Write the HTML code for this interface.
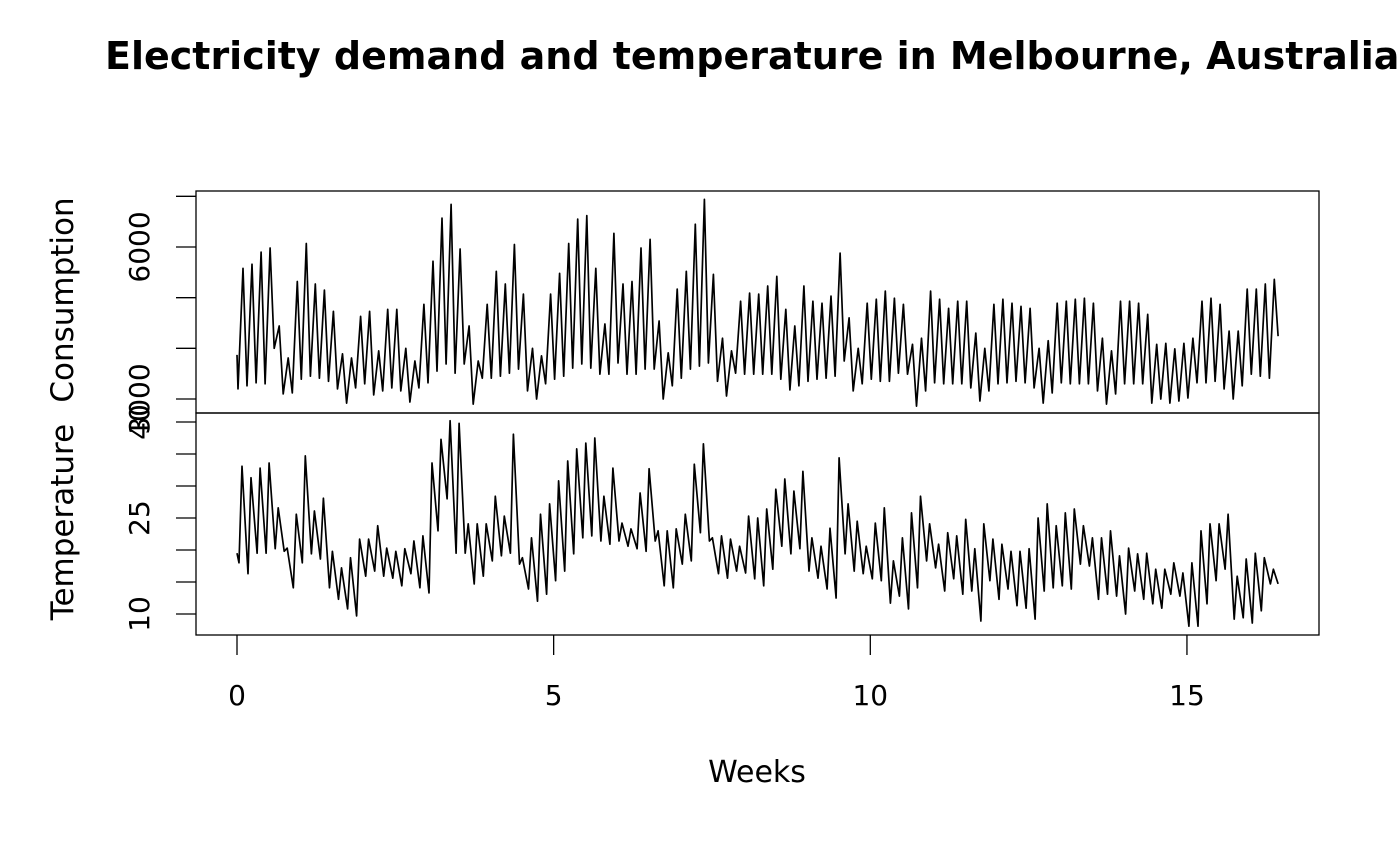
<!DOCTYPE html>
<html><head><meta charset="utf-8"><style>
html,body{margin:0;padding:0;background:#fff;overflow:hidden}
svg{display:block;font-family:"DejaVu Sans","Liberation Sans",sans-serif}
</style></head><body>
<svg id="chart" width="1400" height="866" viewBox="0 0 1400 866">
<text x="105" y="69" font-size="38" font-weight="bold">Electricity demand and temperature in Melbourne, Australia</text>
<rect x="196" y="191" width="1123" height="222" fill="none" stroke="#000" stroke-width="1.3"/>
<rect x="196" y="413" width="1123" height="222" fill="none" stroke="#000" stroke-width="1.3"/>
<text x="757" y="782" font-size="30" text-anchor="middle">Weeks</text>
<text transform="translate(73,300) rotate(-90)" font-size="31" text-anchor="middle">Consumption</text>
<text transform="translate(73,522) rotate(-90)" font-size="31" text-anchor="middle">Temperature</text>
<g id="axes"></g>
<g id="series"></g>
</svg>
<script>
const xTicks=[0,5,10,15];
const demandTicks=[3000,4000,5000,6000,7000];
const demandLabels=["3000","","","6000",""];
const tempTicks=[10,15,20,25,30,35,40];
const tempLabels=["10","","","25","","","40"];
const demandLow=[3200,3260,3320,3300,4000,3100,3120,3390,3450,3410,3350,3200,2920,3220,3300,3080,3160,3220,3160,2940,3220,3320,3550,3690,3510,3690,2900,3410,3410,3450,3510,3590,3160,3000,3300,3390,3450,3610,3690,3610,3490,3490,3710,3490,3490,3590,3590,3000,3260,3410,3590,3650,3710,3350,3060,3510,3490,3490,3490,3490,3390,3180,3260,3350,3390,3410,3450,3750,3160,3300,3390,3350,3350,3510,3490,2860,3160,3320,3300,3300,3300,3220,2960,3160,3300,3320,3350,3320,3220,2920,3120,3320,3300,3300,3300,3160,2900,3100,3300,3300,3300,2920,3000,2920,2960,3020,3320,3320,3350,3200,3000,3260,3490,3450,3410];
const demandHigh=[5580,5660,5900,5980,4440,3810,5320,6070,5270,5150,4730,3890,3810,4630,4730,3950,4770,4770,4000,3750,4870,5720,6570,6840,5960,4440,3750,4870,5520,5270,6050,5070,4000,3850,5070,5480,6070,6550,6620,5580,4480,6270,5270,5320,5980,6150,4540,3910,5170,5520,6450,6940,5460,4200,3950,4930,5090,5070,5230,5420,4770,4440,5230,4930,4890,5030,5880,4600,4000,4890,4970,5130,4990,4870,4080,4200,5130,4970,4790,4930,4930,4300,4000,4870,4970,4890,4830,4790,4000,4150,4890,4930,4970,4990,4890,4200,3950,4930,4930,4890,4670,4080,4100,3990,4100,4200,4930,4990,4870,4340,4340,5170,5170,5270,5360];
const demandEnd=4240;
const tempLow=[18.0,16.3,19.5,19.5,20.2,19.8,14.1,18.0,19.4,18.6,14.1,12.3,10.8,9.7,15.9,16.7,15.9,15.6,14.4,16.3,14.1,13.3,23.0,28.0,19.5,19.5,14.7,15.9,18.3,19.1,19.5,17.8,13.9,12.0,13.1,15.2,16.7,19.4,21.9,22.2,21.4,20.9,21.4,20.6,20.2,19.8,21.4,14.4,14.1,17.8,18.3,22.7,21.4,16.3,15.6,16.7,16.4,15.5,14.4,17.0,20.6,19.4,20.2,16.7,15.6,13.9,12.5,19.4,16.7,16.3,15.5,15.2,11.7,12.8,10.8,14.1,18.3,17.2,13.6,15.5,13.1,13.6,8.9,15.2,12.3,13.9,11.3,10.9,9.2,13.6,14.1,14.4,13.9,17.8,17.5,12.3,13.1,12.8,10.0,13.6,12.3,11.6,10.9,13.1,12.8,8.1,8.1,11.6,15.2,17.0,9.2,9.4,8.6,10.5,14.7];
const tempHigh=[33.1,31.3,32.8,33.6,26.6,20.3,25.6,34.7,26.1,28.1,19.8,17.2,18.8,21.7,21.7,23.8,20.3,19.8,20.2,21.4,22.2,33.6,37.3,40.2,39.8,24.1,24.1,24.1,28.4,25.3,38.1,18.8,21.9,25.6,27.2,30.8,33.9,35.8,36.7,37.5,28.4,32.8,24.2,23.3,28.9,32.7,23.0,23.0,23.3,25.6,33.4,36.6,21.9,22.2,21.7,20.6,25.3,25.0,26.4,29.5,31.1,29.2,32.3,21.9,20.6,23.4,34.4,27.2,24.5,20.6,24.2,26.6,18.3,21.9,25.8,28.4,24.1,20.9,22.7,22.2,24.8,20.2,24.1,21.7,20.9,19.8,19.8,20.2,25.0,27.2,23.8,25.8,26.4,23.8,21.9,21.9,23.0,19.1,20.3,19.4,19.5,17.0,17.0,18.0,16.4,18.0,23.0,24.1,24.1,25.6,15.9,18.6,19.5,18.8,17.0];
const tempStart=19.5, tempEnd=14.7, demandStart=3870;
const endWeek=16.44;

const NS="http://www.w3.org/2000/svg";
const X=w=>237+w*63.33;
const YD=v=>399-(v-3000)*152/3000;
const YT=v=>614-(v-10)*6.4;
const axes=document.getElementById('axes'), series=document.getElementById('series');
function mk(tag,attrs,parent){const e=document.createElementNS(NS,tag);for(const k in attrs)e.setAttribute(k,attrs[k]);parent.appendChild(e);return e;}
xTicks.forEach(t=>{
  const l=mk('line',{x1:X(t),x2:X(t),y1:635,y2:655,stroke:'#000','stroke-width':1.3},axes);
  
  
  const tx=mk('text',{x:X(t),y:705,'font-size':28,'text-anchor':'middle'},axes);tx.textContent=t;
  
  
});
demandTicks.forEach((t,i)=>{
  const l=mk('line',{x1:176,x2:196,y1:YD(t),y2:YD(t),stroke:'#000','stroke-width':1.3},axes);
  
  
  if(demandLabels[i]){const tx=mk('text',{transform:`translate(149,${YD(t)}) rotate(-90)`,'font-size':28,'text-anchor':'middle'},axes);tx.textContent=demandLabels[i];
  
  }
});
tempTicks.forEach((t,i)=>{
  const l=mk('line',{x1:176,x2:196,y1:YT(t),y2:YT(t),stroke:'#000','stroke-width':1.3},axes);
  
  
  if(tempLabels[i]){const tx=mk('text',{transform:`translate(149,${YT(t)}) rotate(-90)`,'font-size':28,'text-anchor':'middle'},axes);tx.textContent=tempLabels[i];
  
  }
});
let dp=[[0,demandStart]];
demandLow.forEach((v,k)=>{dp.push([(k+0.11)/7,v]);dp.push([(k+0.66)/7,demandHigh[k]]);});
dp.push([endWeek,demandEnd]);
let tp=[[0,tempStart]];
tempLow.forEach((v,k)=>{tp.push([(k+0.22)/7,v]);tp.push([(k+0.55)/7,tempHigh[k]]);});
tp.push([endWeek,tempEnd]);
const pd=mk('polyline',{points:dp.map(p=>X(p[0]).toFixed(1)+','+YD(p[1]).toFixed(1)).join(' '),fill:'none',stroke:'#000','stroke-width':1.7,'stroke-linejoin':'round'},series);


const pt=mk('polyline',{points:tp.map(p=>X(p[0]).toFixed(1)+','+YT(p[1]).toFixed(1)).join(' '),fill:'none',stroke:'#000','stroke-width':1.7,'stroke-linejoin':'round'},series);


</script>
</body></html>
